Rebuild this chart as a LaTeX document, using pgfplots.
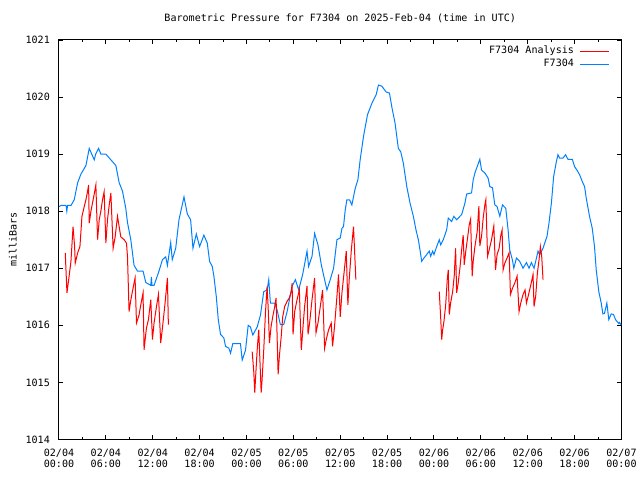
\documentclass[border=0pt]{standalone}
\usepackage{pgfplots}
\pgfplotsset{compat=1.18}
\usepackage{fontspec}
\setmainfont{DejaVu Sans Mono}
\definecolor{anared}{RGB}{255,0,0}
\definecolor{obsblue}{RGB}{0,128,255}
\begin{document}
\fontsize{7.55}{8}\selectfont
\begin{tikzpicture}
\useasboundingbox (-44.25pt,-30.4pt) rectangle (435.8pt,329.6pt);
\begin{axis}[
  at={(0,0)}, anchor=south west,
  scale only axis, width=421.9pt, height=299.6pt,
  xmin=0, xmax=72, ymin=1014, ymax=1021,
  xtick={0,6,...,72}, minor xtick={3,9,...,69},
  xticklabels={{02/04\\00:00},{02/04\\06:00},{02/04\\12:00},{02/04\\18:00},{02/05\\00:00},{02/05\\06:00},{02/05\\12:00},{02/05\\18:00},{02/06\\00:00},{02/06\\06:00},{02/06\\12:00},{02/06\\18:00},{02/07\\00:00}},
  ytick={1014,1015,...,1021},
  tick align=inside, major tick length=3pt, minor tick length=1.5pt,
  tick style={black, line width=0.75pt},
  axis line style={black, line width=0.75pt},
  every axis/.append style={line width=0.75pt},
  /pgf/number format/assume math mode=true,
  yticklabel style={/pgf/number format/1000 sep={}, anchor=east, inner sep=0pt, xshift=-6.5pt},
  xticklabel style={align=center, anchor=north, inner sep=0pt, yshift=-7pt, font=\fontsize{7.55}{8}\selectfont},
  title={Barometric Pressure for F7304 on 2025-Feb-04 (time in UTC)},
  title style={at={(0.5,1)}, anchor=base, yshift=7.5pt, inner sep=0pt},
  ylabel={milliBars},
  every axis y label/.style={at={(axis description cs:-0.082,0.5)}, rotate=90, anchor=center},
  legend plot pos=right,
  legend cell align=right,
  legend image code/.code={\draw[#1] (0pt,0pt) -- (21.75pt,0pt);},
  legend style={at={(1,1)}, anchor=north east, draw=none, fill=none, inner sep=0pt,
    xshift=-8.25pt, yshift=-4.4pt, row sep=2.75pt, column sep=4.5pt,
    nodes={inner sep=0pt, text height=5.5pt, text depth=1.5pt}},
]
\addplot[anared, line width=0.75pt] coordinates {
(0.80,1017.27)(1.02,1016.57)(1.24,1016.80)(1.53,1017.12)(1.80,1017.73)(2.00,1017.38)(2.08,1017.09)(2.39,1017.27)(2.68,1017.38)(2.94,1017.91)(3.23,1018.08)(3.45,1018.20)(3.66,1018.35)(3.79,1018.46)(3.87,1017.79)(4.09,1018.00)(4.30,1018.15)(4.51,1018.30)(4.72,1018.46)(4.94,1017.50)(5.15,1017.85)(5.36,1018.00)(5.57,1018.20)(5.78,1018.34)(6.00,1017.44)(6.21,1017.85)(6.42,1018.10)(6.64,1018.32)(6.93,1017.35)(7.19,1017.55)(7.49,1017.91)(7.70,1017.73)(7.91,1017.55)(8.34,1017.50)(8.64,1017.44)(8.77,1017.20)(8.97,1016.24)(9.19,1016.44)(9.48,1016.65)(9.74,1016.83)(9.92,1016.04)(10.25,1016.18)(10.47,1016.36)(10.76,1016.57)(10.89,1015.57)(11.19,1015.95)(11.45,1016.10)(11.75,1016.45)(11.96,1015.75)(12.17,1016.04)(12.48,1016.33)(12.73,1016.54)(13.02,1015.69)(13.24,1015.95)(13.57,1016.38)(13.88,1016.83)(14.00,1016.01)
};
\addlegendentry{F7304 Analysis}
\addplot[obsblue, line width=0.75pt] coordinates {
(0.00,1018.08)(0.26,1018.10)(0.90,1018.10)(1.00,1018.00)(1.10,1018.10)(1.53,1018.10)(1.95,1018.20)(2.39,1018.50)(2.81,1018.65)(3.45,1018.80)(3.87,1019.10)(4.51,1018.90)(4.70,1019.00)(5.07,1019.10)(5.36,1019.00)(6.00,1019.00)(6.64,1018.90)(7.28,1018.80)(7.70,1018.50)(8.13,1018.35)(8.55,1018.05)(8.77,1017.80)(9.19,1017.50)(9.61,1017.05)(10.05,1016.95)(10.76,1016.95)(11.11,1016.75)(11.75,1016.70)(11.83,1016.85)(11.90,1016.70)(12.17,1016.70)(12.80,1016.95)(13.24,1017.15)(13.66,1017.20)(13.88,1017.05)(14.30,1017.45)(14.50,1017.15)(14.94,1017.35)(15.36,1017.85)(16.00,1018.25)(16.43,1017.95)(16.85,1017.85)(17.15,1017.35)(17.58,1017.60)(18.00,1017.38)(18.55,1017.58)(18.98,1017.44)(19.28,1017.12)(19.62,1017.03)(19.83,1016.86)(20.13,1016.51)(20.39,1016.10)(20.68,1015.84)(21.10,1015.78)(21.32,1015.63)(21.74,1015.60)(21.96,1015.51)(22.25,1015.68)(23.23,1015.68)(23.45,1015.39)(23.87,1015.56)(24.22,1016.00)(24.51,1015.97)(24.81,1015.83)(25.37,1015.97)(25.79,1016.18)(26.21,1016.59)(26.64,1016.62)(26.85,1016.80)(27.06,1016.39)(27.61,1016.39)(27.92,1016.27)(28.34,1016.01)(28.76,1016.01)(29.20,1016.24)(29.83,1016.68)(30.26,1016.80)(30.68,1016.62)(31.19,1016.89)(31.75,1017.30)(31.95,1017.03)(32.39,1017.21)(32.72,1017.61)(33.15,1017.41)(33.58,1017.06)(34.00,1016.80)(34.30,1016.62)(34.72,1016.80)(35.15,1017.00)(35.58,1017.50)(36.00,1017.53)(36.22,1017.70)(36.42,1017.73)(36.64,1018.02)(36.85,1018.20)(37.19,1018.20)(37.49,1018.11)(37.92,1018.40)(38.26,1018.55)(38.55,1018.90)(38.98,1019.31)(39.49,1019.69)(40.05,1019.89)(40.60,1020.04)(40.89,1020.21)(41.33,1020.19)(41.87,1020.09)(42.30,1020.07)(42.60,1019.83)(43.02,1019.54)(43.44,1019.10)(43.75,1019.04)(44.08,1018.84)(44.52,1018.43)(44.94,1018.14)(45.36,1017.91)(45.70,1017.67)(46.00,1017.50)(46.21,1017.32)(46.43,1017.12)(46.72,1017.18)(47.07,1017.24)(47.40,1017.30)(47.58,1017.21)(47.83,1017.30)(48.00,1017.24)(48.35,1017.38)(48.68,1017.50)(48.86,1017.41)(49.19,1017.50)(49.62,1017.67)(49.83,1017.88)(50.26,1017.82)(50.55,1017.91)(50.90,1017.85)(51.54,1017.94)(51.96,1018.14)(52.18,1018.30)(52.81,1018.32)(53.02,1018.55)(53.24,1018.67)(53.53,1018.78)(53.87,1018.91)(54.09,1018.72)(54.51,1018.67)(54.93,1018.58)(55.15,1018.43)(55.49,1018.41)(55.79,1018.11)(56.08,1018.08)(56.43,1017.91)(56.77,1018.11)(57.19,1018.05)(57.49,1017.67)(57.70,1017.32)(58.05,1017.14)(58.22,1017.00)(58.56,1017.18)(58.98,1017.12)(59.40,1017.00)(59.84,1017.10)(60.17,1017.00)(60.47,1017.10)(60.81,1017.00)(61.02,1017.12)(61.32,1017.30)(61.53,1017.24)(61.96,1017.35)(62.17,1017.44)(62.47,1017.56)(62.72,1017.79)(63.03,1018.14)(63.32,1018.61)(63.67,1018.87)(63.87,1018.99)(64.09,1018.93)(64.51,1018.93)(64.85,1018.99)(65.15,1018.91)(65.71,1018.91)(66.00,1018.78)(66.30,1018.72)(66.64,1018.64)(66.98,1018.52)(67.28,1018.43)(67.49,1018.23)(67.91,1017.91)(68.26,1017.70)(68.55,1017.38)(68.77,1016.97)(69.10,1016.59)(69.41,1016.39)(69.62,1016.20)(69.83,1016.21)(70.13,1016.39)(70.38,1016.10)(70.69,1016.20)(70.98,1016.19)(71.24,1016.10)(71.66,1016.03)(71.75,1016.05)(72.00,1016.00)
};
\addlegendentry{F7304}
\addplot[anared, line width=0.75pt, forget plot] coordinates {
(24.73,1015.54)(24.93,1015.19)(25.06,1014.82)(25.15,1015.05)(25.37,1015.57)(25.57,1015.92)(25.88,1014.82)(26.00,1015.05)(26.21,1015.57)(26.43,1016.22)(26.64,1016.68)(26.77,1016.33)(26.94,1015.69)(27.15,1015.98)(27.36,1016.15)(27.58,1016.30)(27.79,1016.48)(28.05,1015.14)(28.21,1015.46)(28.43,1015.78)(28.64,1016.15)(28.89,1016.33)(29.20,1016.42)(29.49,1016.48)(29.75,1016.60)(29.84,1016.74)(29.96,1015.84)(30.17,1016.24)(30.47,1016.45)(30.77,1016.62)(30.90,1016.04)(31.02,1015.57)(31.19,1015.89)(31.44,1016.33)(31.75,1016.69)(31.88,1015.84)(32.08,1016.04)(32.39,1016.45)(32.72,1016.83)(32.90,1015.87)(33.15,1016.04)(33.45,1016.33)(33.74,1016.62)(34.00,1015.60)(34.21,1015.75)(34.51,1015.92)(34.85,1016.04)(35.02,1015.63)(35.27,1015.98)(35.58,1016.51)(35.78,1016.89)(36.00,1016.15)(36.22,1016.57)(36.55,1017.00)(36.77,1017.30)(36.98,1016.36)(37.15,1016.80)(37.41,1017.30)(37.70,1017.73)(38.00,1016.80)
};
\addplot[anared, line width=0.75pt, forget plot] coordinates {
(48.68,1016.59)(48.86,1016.13)(48.99,1015.75)(49.11,1015.92)(49.28,1016.07)(49.50,1016.36)(49.70,1016.80)(49.83,1016.97)(49.96,1016.19)(50.13,1016.39)(50.39,1016.59)(50.59,1016.86)(50.77,1017.35)(50.90,1016.57)(51.10,1016.74)(51.32,1017.00)(51.54,1017.32)(51.74,1017.58)(51.87,1017.06)(52.09,1017.32)(52.30,1017.53)(52.51,1017.76)(52.69,1017.86)(52.89,1016.86)(53.02,1017.12)(53.24,1017.38)(53.53,1017.64)(53.75,1018.09)(53.87,1017.39)(54.09,1017.56)(54.30,1017.88)(54.51,1018.11)(54.64,1018.20)(54.86,1017.21)(55.06,1017.32)(55.37,1017.50)(55.66,1017.74)(55.88,1016.97)(56.08,1017.24)(56.34,1017.35)(56.56,1017.58)(56.72,1017.67)(56.85,1016.97)(57.07,1017.09)(57.36,1017.18)(57.62,1017.27)(57.79,1016.54)(58.05,1016.65)(58.34,1016.74)(58.64,1016.86)(58.89,1016.24)(59.11,1016.39)(59.40,1016.54)(59.66,1016.62)(59.84,1016.39)(60.04,1016.50)(60.35,1016.68)(60.68,1016.89)(60.81,1016.33)(61.02,1016.51)(61.24,1016.92)(61.45,1017.15)(61.62,1017.38)(61.79,1017.21)(61.96,1016.80)
};
\end{axis}
\end{tikzpicture}
\end{document}
